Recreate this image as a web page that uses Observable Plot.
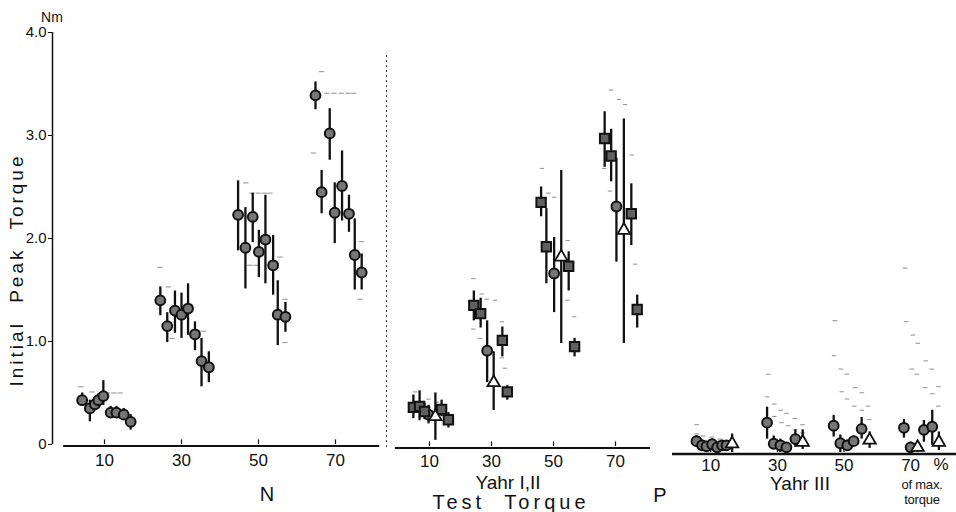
<!DOCTYPE html>
<html><head><meta charset="utf-8">
<script src="https://cdn.jsdelivr.net/npm/d3@7"></script>
<script src="https://cdn.jsdelivr.net/npm/@observablehq/plot@0.6"></script>
<style>
html,body{margin:0;padding:0;background:#fff;}
#chart{position:relative;width:956px;height:512px;overflow:hidden;background:#fff;font-family:"Liberation Sans Narrow","Liberation Sans",Arial,sans-serif;color:#111;}
#chart svg{position:absolute;overflow:visible;background:transparent}
.lbl{position:absolute;white-space:nowrap;line-height:1;color:#111}
</style></head><body><div id="chart"></div>
<script>
// ---------- Data (percent of max torque position, Initial Peak Torque in Nm) ----------
const tickValues = [10, 30, 50, 70];
const yTicks = [0, 1, 2, 3, 4];

// Panel N (normal subjects)
const nPct  = [4.2, 6.2, 7.5, 8.4, 9.7, 11.6, 13.1, 15.0, 16.8,
               24.5, 26.3, 28.3, 30.0, 31.7, 33.5, 35.2, 37.1,
               44.7, 46.6, 48.5, 50.1, 51.8, 53.8, 55.0, 57.0,
               64.8, 66.4, 68.5, 69.8, 71.7, 73.5, 75.0, 76.8];
const nMean = [0.43, 0.35, 0.39, 0.43, 0.47, 0.31, 0.31, 0.29, 0.22,
               1.40, 1.15, 1.30, 1.26, 1.32, 1.07, 0.81, 0.75,
               2.23, 1.91, 2.21, 1.87, 1.99, 1.74, 1.26, 1.24,
               3.39, 2.45, 3.02, 2.25, 2.51, 2.24, 1.84, 1.67];
const nLo   = [0.37, 0.22, 0.33, 0.37, 0.38, 0.26, 0.26, 0.24, 0.14,
               1.25, 0.99, 1.08, 1.03, 1.06, 0.91, 0.56, 0.60,
               1.88, 1.51, 1.96, 1.62, 1.56, 1.45, 0.96, 1.09,
               3.25, 2.24, 2.76, 1.95, 2.17, 2.06, 1.50, 1.50];
const nHi   = [0.50, 0.43, 0.45, 0.49, 0.62, 0.37, 0.37, 0.35, 0.29,
               1.53, 1.28, 1.49, 1.47, 1.56, 1.19, 1.03, 0.90,
               2.56, 2.30, 2.44, 2.08, 2.42, 2.03, 1.59, 1.38,
               3.52, 2.66, 3.26, 2.54, 2.85, 2.42, 2.19, 1.85];
const nDashX = [4.0, 6.9, 11.0, 12.6, 14.2, 24.5, 26.7, 27.7, 35.8,
                46.8, 48.4, 50.0, 51.6, 53.1, 47.9, 49.5, 55.7, 57.0, 57.0,
                66.5, 67.9, 69.7, 71.6, 73.4, 74.9, 64.4, 76.9, 76.5];
const nDashY = [0.56, 0.51, 0.50, 0.50, 0.50, 1.72, 1.53, 1.03, 1.10,
                2.54, 2.44, 2.44, 2.44, 2.44, 1.74, 1.74, 1.82, 1.41, 0.99,
                3.62, 3.41, 3.41, 3.41, 3.41, 3.41, 2.83, 1.97, 1.41];

// Panel Yahr I, II
const pPct  = [4.8, 6.8, 8.4, 9.7, 11.9, 13.9, 16.1,
               24.3, 26.5, 28.6, 30.7, 33.5, 35.1,
               46.0, 47.7, 50.2, 52.5, 54.9, 56.8,
               66.5, 68.6, 70.3, 72.7, 75.1, 77.0];
const pMean = [0.38, 0.39, 0.34, 0.31, 0.29, 0.36, 0.26,
               1.37, 1.29, 0.93, 0.62, 1.03, 0.53,
               2.37, 1.94, 1.68, 1.84, 1.75, 0.97,
               2.99, 2.82, 2.33, 2.10, 2.26, 1.33];
const pLo   = [0.27, 0.25, 0.26, 0.22, 0.06, 0.29, 0.18,
               1.22, 1.15, 0.62, 0.35, 0.87, 0.45,
               2.23, 1.58, 1.30, 1.00, 1.51, 0.87,
               2.71, 2.57, 1.79, 1.00, 1.95, 1.15];
const pHi   = [0.50, 0.54, 0.42, 0.40, 0.52, 0.45, 0.33,
               1.51, 1.44, 1.22, 0.92, 1.16, 0.59,
               2.52, 2.31, 2.03, 2.68, 1.89, 1.05,
               3.25, 3.08, 2.80, 3.18, 2.55, 1.47];
const pMark = ["square","square","square","circle","triangle","square","square",
               "square","square","circle","triangle","square","square",
               "square","square","circle","triangle","square","square",
               "square","square","circle","triangle","square","square"];
const pDashX = [5.5, 9.8, 12.5, 24.3, 27.0, 28.6, 31.3, 24.3, 26.5, 33.5, 33.5, 34.5,
                46.4, 48.5, 50.4, 54.7, 54.7, 56.8, 68.7, 71.3, 73.2, 75.4, 66.5, 68.4, 76.5];
const pDashY = [0.53, 0.46, 0.43, 1.63, 1.48, 1.43, 1.42, 1.14, 1.05, 1.21, 0.86, 0.76,
                2.70, 2.46, 2.42, 2.00, 1.42, 1.26, 3.46, 3.37, 3.32, 2.83, 2.70, 2.48, 1.77];

// Panel Yahr III
const qPct  = [5.7, 7.4, 8.7, 10.4, 11.9, 13.4, 14.7, 16.4,
               26.9, 28.9, 30.9, 32.7, 35.4, 37.6,
               46.9, 48.9, 51.0, 52.9, 55.3, 57.7,
               68.0, 70.0, 72.1, 74.0, 76.5, 78.5];
const qMean = [0.11, 0.07, 0.06, 0.08, 0.05, 0.07, 0.07, 0.085,
               0.29, 0.085, 0.07, 0.05, 0.13, 0.10,
               0.26, 0.09, 0.07, 0.11, 0.23, 0.12,
               0.24, 0.05, 0.05, 0.22, 0.25, 0.10];
const qLo   = [0.05, 0.02, 0.02, 0.03, 0.01, 0.02, 0.02, 0.00,
               0.13, 0.03, 0.00, 0.01, 0.05, 0.03,
               0.15, 0.00, 0.02, 0.06, 0.13, 0.04,
               0.14, 0.00, 0.00, 0.10, 0.07, 0.02];
const qHi   = [0.16, 0.12, 0.10, 0.13, 0.09, 0.11, 0.11, 0.18,
               0.44, 0.16, 0.13, 0.09, 0.22, 0.22,
               0.36, 0.17, 0.12, 0.16, 0.34, 0.20,
               0.32, 0.10, 0.10, 0.31, 0.41, 0.20];
const qMark = ["circle","circle","circle","circle","circle","circle","circle","triangle",
               "circle","circle","circle","circle","circle","triangle",
               "circle","circle","circle","circle","circle","triangle",
               "circle","circle","triangle","circle","circle","triangle"];
const qDashX = [5.9, 5.9, 7.8, 10.4, 12.9,
                27.4, 27.1, 29.2, 29.2, 31.1, 32.9, 31.4, 33.4, 35.4, 37.7, 35.4, 37.7,
                47.4, 47.2, 49.2, 51.0, 49.5, 51.1, 53.5, 55.5, 53.2, 55.5, 57.4, 57.7,
                68.5, 68.8, 70.8, 72.3, 70.5, 72.0, 74.7, 76.5, 74.5, 76.7, 78.5, 78.5];
const qDashY = [0.27, 0.18, 0.16, 0.15, 0.13,
                0.76, 0.54, 0.47, 0.35, 0.41, 0.38, 0.29, 0.26, 0.33, 0.27, 0.22, 0.19,
                1.28, 0.94, 0.81, 0.76, 0.59, 0.52, 0.63, 0.58, 0.45, 0.41, 0.45, 0.32,
                1.79, 1.27, 1.14, 1.06, 0.81, 0.76, 0.89, 0.81, 0.63, 0.57, 0.64, 0.45];

// ---------- Build ----------
const rows = (x, m, lo, hi, mk) => x.map((v, i) => ({x: v, y: m[i], lo: lo[i], hi: hi[i], m: mk ? mk[i] : "circle"}));
const dashes = (x, y) => x.map((v, i) => ({x: v, y: y[i]}));

const INK = "#111";
const FONT = '"Liberation Sans Narrow","Liberation Sans",Arial,sans-serif';

function panelMarks(data, dash, axisFrom, axisTo, axisW, pad) {
  return [
    Plot.ruleY(dash, {y: "y", x1: d => d.x - 0.7, x2: d => d.x + 0.7, stroke: "#9a9a9a", strokeWidth: 1.1}),
    Plot.ruleY([0], {x1: axisFrom, x2: axisTo, stroke: INK, strokeWidth: axisW, dy: 1.5}),
    Plot.ruleX(tickValues, {y1: 0, y2: 0.045, stroke: INK, strokeWidth: 1.2}),
    Plot.axisX({ticks: tickValues, tickSize: 0, tickPadding: pad, fontSize: 17, fill: INK}),
    Plot.ruleX(data, {x: "x", y1: "lo", y2: "hi", stroke: INK, strokeWidth: 2.3}),
    Plot.dot(data.filter(d => d.m === "circle"), {x: "x", y: "y", r: 4.9, symbol: "circle", fill: "#767676", stroke: INK, strokeWidth: 2}),
    Plot.dot(data.filter(d => d.m === "square"), {x: "x", y: "y", r: 5.3, symbol: "square", fill: "#606060", stroke: INK, strokeWidth: 2}),
    Plot.dot(data.filter(d => d.m === "triangle"), {x: "x", y: "y", r: 4.6, symbol: "triangle", fill: "#fff", stroke: INK, strokeWidth: 1.8})
  ];
}

const common = {height: 480, marginTop: 32, marginBottom: 36, marginRight: 0,
  style: {fontFamily: FONT, background: "transparent", color: INK}};

const plotN = Plot.plot({
  ...common, width: 390, marginLeft: 52,
  x: {domain: [(52 - 65.5) / 3.85, (390 - 65.5) / 3.85], label: null},
  y: {domain: [0, 4], label: null},
  marks: [
    Plot.ruleX([(52 - 65.5) / 3.85], {y1: 0, y2: 4, stroke: INK, strokeWidth: 1.5}),
    Plot.axisY({ticks: yTicks, tickFormat: d => d === 0 ? "0" : d3.format(".1f")(d), tickSize: 4, tickPadding: 2, fontSize: 15, fill: INK}),
    Plot.ruleX([(386 - 65.5) / 3.85], {y1: -0.03, y2: 3.78, stroke: "#333", strokeWidth: 1, strokeDasharray: "2,3"}),
    ...panelMarks(rows(nPct, nMean, nLo, nHi), dashes(nDashX, nDashY), -0.6, 81.5, 1.8, 9)
  ]
});

const plotP = Plot.plot({
  ...common, width: 266, marginLeft: 0,
  x: {domain: [(390 - 398) / 3.1, (656 - 398) / 3.1], label: null},
  y: {domain: [0, 4], label: null, axis: null},
  marks: panelMarks(rows(pPct, pMean, pLo, pHi, pMark), dashes(pDashX, pDashY), -1, 81.3, 1.8, 8)
});

const plotQ = Plot.plot({
  ...common, width: 300, marginLeft: 0,
  x: {domain: [(656 - 677) / 3.33, (956 - 677) / 3.33], label: null},
  y: {domain: [0, 4], label: null, axis: null},
  marks: panelMarks(rows(qPct, qMean, qLo, qHi, qMark), dashes(qDashX, qDashY), -1.5, 84, 2.4, 6)
});

const chart = document.getElementById("chart");
function place(el, left, top) { el.style.left = left + "px"; el.style.top = top + "px"; chart.appendChild(el); }
place(plotN, 0, 0);
place(plotP, 390, 2);
place(plotQ, 656, 8);

function label(text, cx, cy, size, extra) {
  const d = document.createElement("div");
  d.className = "lbl";
  d.textContent = text;
  d.style.fontSize = size + "px";
  Object.assign(d.style, extra || {});
  d.style.left = cx + "px"; d.style.top = cy + "px";
  d.style.transform = (extra && extra.transform) || "translate(-50%,-50%)";
  chart.appendChild(d);
  return d;
}
label("Nm", 52, 17, 14, {fontFamily: '"Liberation Sans",Arial,sans-serif'});
label("Initial  Peak  Torque", 16, 270, 19, {letterSpacing: "3px", wordSpacing: "10px", transform: "translate(-50%,-50%) rotate(-90deg)"});
label("N", 267, 494, 20);
label("Test  Torque", 511, 502, 20, {letterSpacing: "4px", wordSpacing: "10px"});
label("Yahr I,II", 508, 482, 19);
label("P", 660, 495, 20);
label("Yahr III", 800, 483, 19);
label("%", 941, 464, 17);
label("of max.", 922, 485, 13, {letterSpacing: "-0.2px", lineHeight: "12px"});
label("torque", 922, 500, 13, {letterSpacing: "-0.2px", lineHeight: "12px"});
</script></body></html>
